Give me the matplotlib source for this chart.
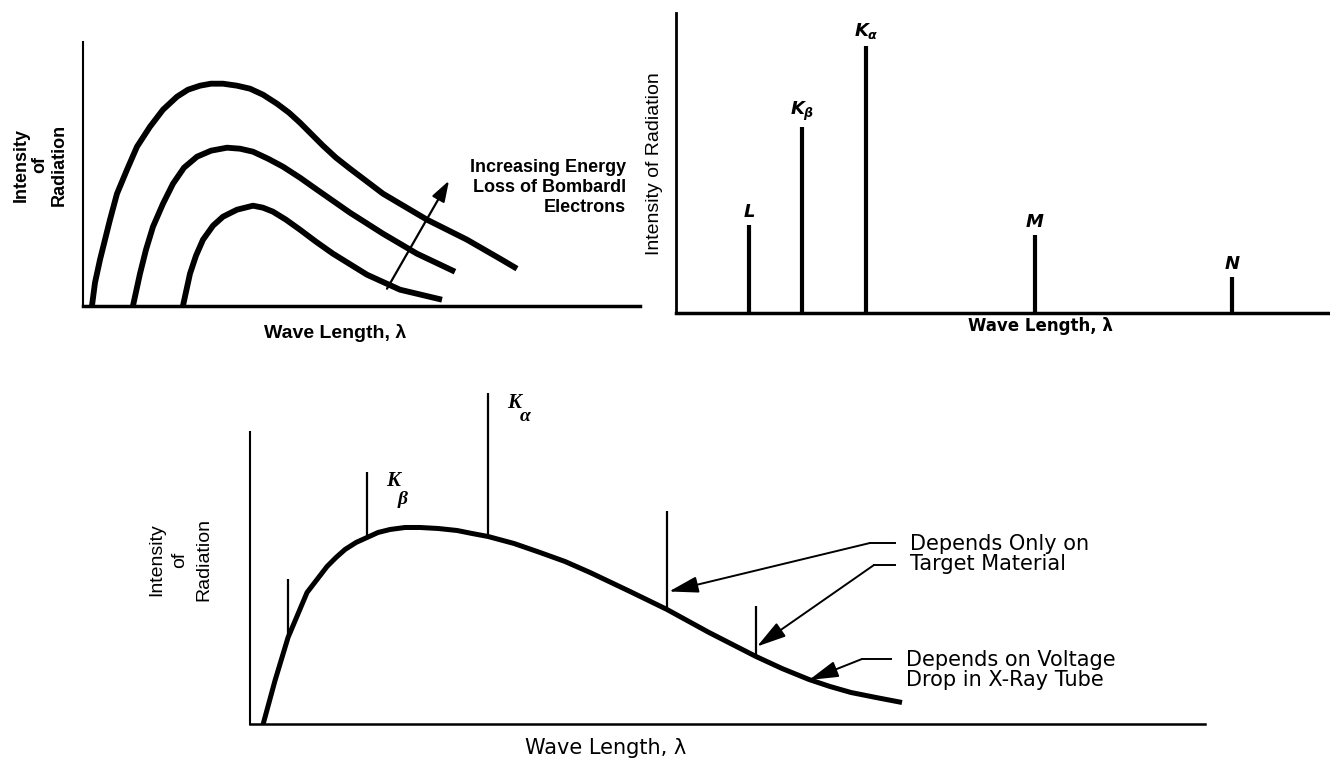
import matplotlib.pyplot as plt

plt.rcParams['mathtext.fontset'] = 'custom'
plt.rcParams['mathtext.it'] = 'DejaVu Sans:italic:bold'
plt.rcParams['mathtext.rm'] = 'DejaVu Sans:bold'

narrow = ['Liberation Sans Narrow', 'Liberation Sans', 'DejaVu Sans']

# --- top left: continuous spectrum for three voltages (arbitrary units)
hi_x = [0.9, 1.2, 1.7, 2.7, 3.4, 4.4, 5.4, 6.7, 8.0, 9.4, 10.5, 11.7, 12.8, 14.0, 15.4, 16.7,
        18.0, 19.4, 20.6, 21.7, 22.9, 24.0, 25.3, 26.7, 30.0, 34.4, 38.4, 41.7, 43.4]
hi_y = [0.0, 2.3, 4.6, 8.6, 11.2, 13.6, 15.9, 17.9, 19.6, 20.9, 21.6, 22.0, 22.2, 22.2, 22.0, 21.7,
        21.1, 20.2, 19.3, 18.3, 17.1, 16.0, 14.8, 13.7, 11.2, 8.6, 6.6, 4.7, 3.7]
mid_x = [5.0, 5.7, 6.3, 7.0, 8.0, 9.0, 10.1, 11.4, 12.8, 14.4, 15.7, 17.0, 18.5, 20.0, 21.7,
         23.4, 26.7, 30.0, 33.4, 37.2]
mid_y = [0.0, 3.2, 5.6, 7.9, 10.2, 12.2, 13.8, 14.9, 15.5, 15.8, 15.7, 15.4, 14.7, 13.9, 12.8,
         11.6, 9.3, 7.2, 5.2, 3.4]
lo_x = [10.0, 10.7, 11.3, 12.0, 13.0, 14.0, 15.4, 17.0, 18.0, 19.0, 20.3, 21.7, 23.3, 25.0,
        28.4, 31.7, 35.9]
lo_y = [0.0, 3.2, 5.0, 6.6, 8.0, 8.9, 9.6, 10.0, 9.8, 9.4, 8.6, 7.6, 6.4, 5.2,
        3.1, 1.6, 0.6]

# --- top right: characteristic lines
line_names = ['$L$', r'$K_{\beta}$', r'$K_{\alpha}$', '$M$', '$N$']
line_pos = [7.3, 12.6, 19.0, 35.9, 55.6]
line_height = [8.8, 18.6, 26.7, 7.8, 3.6]

# --- bottom: continuous + characteristic
spec_x = [1.3, 2.5, 3.8, 5.7, 7.7, 8.6, 9.5, 10.6, 11.7, 12.8, 14.0, 15.5, 17.0, 18.8, 20.7,
          22.2, 23.8, 26.4, 29.0, 31.5, 34.0, 38.0, 41.7, 45.9, 50.6, 53.2, 55.9, 58.0,
          60.1, 62.6, 65.2]
spec_y = [0.0, 4.4, 8.7, 13.2, 15.8, 16.7, 17.5, 18.2, 18.7, 19.2, 19.5, 19.7, 19.7, 19.6, 19.4,
          19.1, 18.8, 18.1, 17.2, 16.3, 15.2, 13.3, 11.5, 9.2, 6.8, 5.6, 4.5, 3.8,
          3.2, 2.7, 2.2]
peak_x = [3.8, 11.7, 23.8, 41.7, 50.6]
peak_base = [8.7, 18.7, 18.8, 11.5, 6.8]
peak_top = [14.5, 25.2, 33.1, 21.3, 11.8]

fig = plt.figure(figsize=(13.3, 7.58), dpi=100)


def bare(ax):
    ax.spines['top'].set_visible(False)
    ax.spines['right'].set_visible(False)
    ax.set_xticks([])
    ax.set_yticks([])
    ax.patch.set_alpha(0)


# top left
ax1 = fig.add_axes([0.0624, 0.5967, 0.4188, 0.3483])
bare(ax1)
ax1.set_xlim(0, 55.7)
ax1.set_ylim(0, 26.4)
ax1.spines['left'].set_linewidth(1.5)
ax1.spines['bottom'].set_linewidth(2.5)
for xs, ys in [(hi_x, hi_y), (mid_x, mid_y), (lo_x, lo_y)]:
    ax1.plot(xs, ys, color='black', lw=4.2, solid_capstyle='butt',
             solid_joinstyle='round')
ax1.annotate('', xy=(36.6, 12.5), xytext=(30.4, 1.7),
             arrowprops=dict(arrowstyle='-|>,head_length=0.9,head_width=0.3',
                             color='black', lw=1.6, mutation_scale=14,
                             shrinkA=0, shrinkB=0))
ax1.text(54.3, 11.8, 'Increasing Energy\nLoss of Bombardl\nElectrons', ha='right',
         va='center', multialignment='right', family=narrow, weight='bold',
         fontsize=13, linespacing=1.25)
ax1.text(-0.077, 0.533, 'Intensity\nof\nRadiation', transform=ax1.transAxes,
         rotation=90, ha='center', va='center', multialignment='center',
         family=narrow, weight='bold', fontsize=13, linespacing=1.15)
ax1.text(0.452, -0.103, 'Wave Length, λ', transform=ax1.transAxes, ha='center',
         va='center', family=narrow, weight='bold', fontsize=14)

# top right
ax2 = fig.add_axes([0.5083, 0.5875, 0.4917, 0.395])
bare(ax2)
ax2.set_xlim(0, 65.4)
ax2.set_ylim(0, 29.94)
ax2.spines['left'].set_linewidth(2)
ax2.spines['bottom'].set_linewidth(2.5)
ax2.vlines(line_pos, 0, line_height, color='black', lw=3)
for name, x, h in zip(line_names, line_pos, line_height):
    ax2.annotate(name, (x, h), xytext=(0, 3), textcoords='offset points',
                 ha='center', va='bottom', fontsize=13)
ax2.text(-0.0336, 0.497, 'Intensity of Radiation', transform=ax2.transAxes,
         rotation=90, ha='center', va='center', family=narrow, fontsize=14)
ax2.text(0.557, -0.044, 'Wave Length, λ', transform=ax2.transAxes, ha='center',
         va='center', family='DejaVu Sans', weight='bold', fontsize=12)

# bottom
ax3 = fig.add_axes([0.188, 0.0442, 0.718, 0.3863])
bare(ax3)
ax3.set_xlim(0, 95.5)
ax3.set_ylim(0, 29.28)
ax3.spines['left'].set_linewidth(1.5)
ax3.spines['bottom'].set_linewidth(1.8)
ax3.plot(spec_x, spec_y, color='black', lw=3.6, solid_capstyle='butt',
         solid_joinstyle='round')
ax3.vlines(peak_x, peak_base, peak_top, color='black', lw=1.6, clip_on=False)

serif = ['Liberation Serif', 'DejaVu Serif']
ax3.text(14.3, 24.3, 'K', ha='center', va='center', family=serif,
         style='italic', weight='bold', fontsize=15)
ax3.text(15.3, 22.5, 'β', ha='center', va='center', family=serif,
         style='italic', weight='bold', fontsize=14)
ax3.text(26.4, 32.1, 'K', ha='center', va='center', family=serif,
         style='italic', weight='bold', fontsize=15, clip_on=False)
ax3.text(27.5, 30.8, 'α', ha='center', va='center', family=serif,
         style='italic', weight='bold', fontsize=14, clip_on=False)

# leaders: (text end, elbow, tip)
leaders = [((64.5, 18.15), (62.0, 18.15), (41.9, 13.3)),
           ((64.5, 15.95), (62.4, 15.95), (50.7, 7.8)),
           ((64.1, 6.55), (61.2, 6.55), (55.9, 4.45))]
for start, elbow, tip in leaders:
    ax3.plot([start[0], elbow[0]], [start[1], elbow[1]], color='black', lw=1.4)
    ax3.annotate('', xy=tip, xytext=elbow,
                 arrowprops=dict(arrowstyle='-|>,head_length=1.0,head_width=0.28',
                                 color='black', lw=1.4, mutation_scale=18,
                                 shrinkA=0, shrinkB=0))

ax3.text(66.0, 17.05, 'Depends Only on\nTarget Material', ha='left', va='center',
         family='DejaVu Sans', fontsize=15, linespacing=1.0)
ax3.text(65.6, 5.45, 'Depends on Voltage\nDrop in X-Ray Tube', ha='left',
         va='center', family='DejaVu Sans', fontsize=15, linespacing=1.05)
ax3.text(-0.0733, 0.562, 'Intensity\nof\nRadiation', transform=ax3.transAxes,
         rotation=90, ha='center', va='center', multialignment='center',
         family=narrow, fontsize=14, linespacing=1.5)
ax3.text(0.372, -0.08, 'Wave Length, λ', transform=ax3.transAxes, ha='center',
         va='center', family='DejaVu Sans', fontsize=15)

fig.savefig('out.png', dpi=100, facecolor='white')
